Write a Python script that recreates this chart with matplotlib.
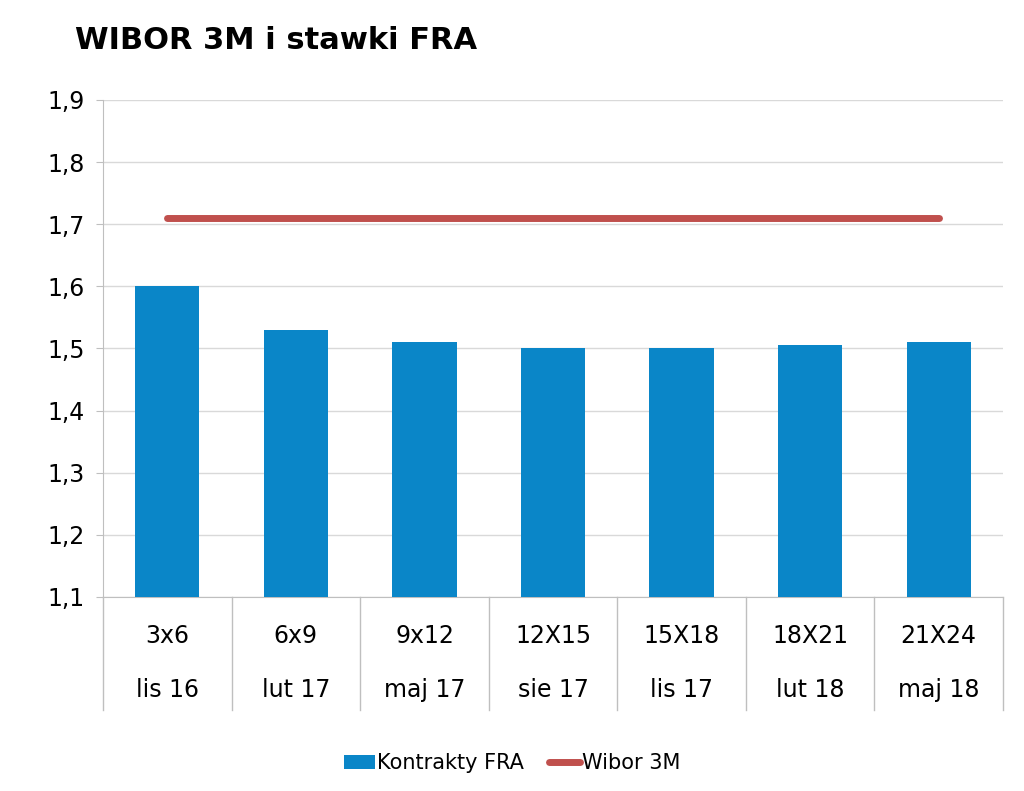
import matplotlib
matplotlib.use("Agg")
import matplotlib.pyplot as plt

tenors = ["3x6", "6x9", "9x12", "12X15", "15X18", "18X21", "21X24"]
months = ["lis 16", "lut 17", "maj 17", "sie 17", "lis 17", "lut 18", "maj 18"]
fra = [1.60, 1.53, 1.51, 1.50, 1.50, 1.505, 1.51]
wibor = [1.71] * 7
yticks = [1.1, 1.2, 1.3, 1.4, 1.5, 1.6, 1.7, 1.8, 1.9]

fig = plt.figure(figsize=(10.24, 7.91), dpi=100)
ax = fig.add_axes([0.1006, 0.2453, 0.8789, 0.6283])
x = list(range(len(tenors)))
b = ax.bar(x, [v - 1.1 for v in fra], bottom=1.1, width=0.5, color="#0A86C8", label="Kontrakty FRA", zorder=3)
l, = ax.plot(x, wibor, color="#C0504D", lw=5, label="Wibor 3M", zorder=4, solid_capstyle="round")
ax.set_xlim(-0.5, len(tenors) - 0.5)
ax.set_ylim(1.1, 1.9)
ax.set_yticks(yticks)
ax.set_yticklabels([f"{t:.1f}".replace(".", ",") for t in yticks], fontsize=17)
ax.yaxis.grid(True, color="#d9d9d9", lw=1, zorder=0)
ax.set_xticks([])
for s in ["top", "right"]:
    ax.spines[s].set_visible(False)
ax.spines["left"].set_color("#bfbfbf")
ax.spines["bottom"].set_color("#bfbfbf")
ax.tick_params(axis="y", length=5, color="#bfbfbf", pad=8)
trans = ax.get_xaxis_transform()
for k in range(len(tenors) + 1):
    ax.plot([k - 0.5, k - 0.5], [0, -0.227], transform=trans, color="#bfbfbf", lw=1, clip_on=False)
for i in x:
    ax.text(i, -0.078, tenors[i], transform=trans, ha="center", va="center", fontsize=17)
    ax.text(i, -0.187, months[i], transform=trans, ha="center", va="center", fontsize=17)
fig.text(0.073, 0.949, "WIBOR 3M i stawki FRA", fontsize=22, fontweight="bold", va="center")
fig.legend([b, l], ["Kontrakty FRA", "Wibor 3M"], loc="center", bbox_to_anchor=(0.5, 0.035), ncol=2,
           frameon=False, fontsize=15, handlelength=1.5, columnspacing=1.2, handletextpad=0.1)
fig.savefig("out.png", dpi=100)
